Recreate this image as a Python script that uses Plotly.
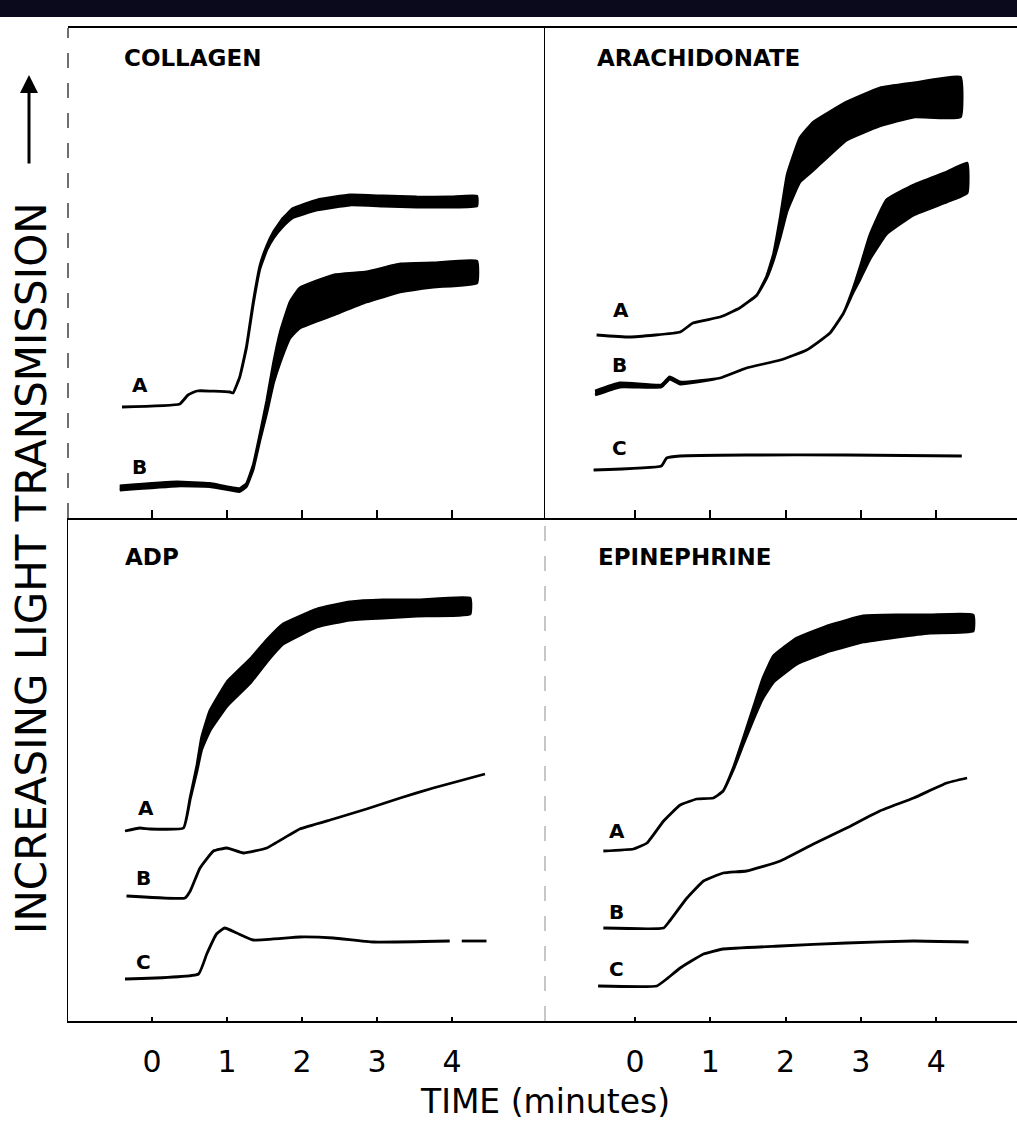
import plotly.graph_objects as go

# ---------------- data (time in minutes, transmission in arbitrary units) ----------------
# *_T: time, *_Y: trace centre, *_W: half-width of the oscillation envelope (0 = thin trace)
COL_A_T = [-0.40, 0.37, 0.48, 0.60, 1.04, 1.08, 1.17, 1.26, 1.35, 1.44, 1.53, 1.62, 1.75, 1.88, 2.20, 2.64, 3.08, 3.53, 3.97, 4.33]
COL_A_Y = [111, 114, 123, 127, 126, 125, 141, 171, 215, 251, 270, 283, 296, 305, 313, 318, 317, 316, 316, 317]
COL_A_W = [0, 0, 0, 0, 0, 0, 0, 0.5, 1, 1.5, 2, 3, 4, 4.5, 5, 5, 5, 5, 5, 5]

COL_B_T = [-0.43, 0.33, 0.77, 1.17, 1.26, 1.35, 1.44, 1.53, 1.62, 1.71, 1.84, 1.97, 2.42, 2.86, 3.31, 3.75, 4.33]
COL_B_Y = [30, 34, 33, 28, 33, 51, 81, 111, 145, 171, 198, 210, 223, 231, 240, 243, 246]
COL_B_W = [2, 2, 1.5, 1.5, 1.5, 2, 3, 6, 10, 15, 18, 20, 20, 15, 14, 12, 11]

ARA_A_T = [-0.51, -0.07, 0.60, 0.77, 1.13, 1.39, 1.62, 1.75, 1.84, 1.93, 2.02, 2.19, 2.37, 2.81, 3.25, 3.70, 4.32]
ARA_A_Y = [183, 181, 186, 195, 201, 210, 223, 241, 261, 291, 325, 358, 372, 397, 411, 418, 421]
ARA_A_W = [0, 0, 0, 0, 0, 0, 0, 1, 3, 10, 18, 22, 24, 19, 19, 17, 20]

ARA_B_T = [-0.53, -0.20, 0.35, 0.46, 0.60, 1.13, 1.48, 1.93, 2.28, 2.59, 2.77, 2.90, 2.99, 3.12, 3.34, 3.70, 4.14, 4.41]
ARA_B_Y = [125, 133, 132, 140, 135, 140, 150, 158, 168, 185, 205, 228, 245, 271, 301, 318, 331, 340]
ARA_B_W = [2, 2, 1, 1, 1, 0, 0, 0, 0, 0, 0, 2, 6, 12, 17, 15, 15, 15]

ARA_C_T = [-0.55, 0.35, 0.42, 0.60, 1.48, 2.81, 4.34]
ARA_C_Y = [48, 52, 60, 62, 63, 63, 62]
ARA_C_W = [0, 0, 0, 0, 0, 0, 0]

ADP_A_T = [-0.36, -0.16, -0.03, 0.42, 0.51, 0.60, 0.66, 0.77, 1.00, 1.31, 1.53, 1.75, 2.20, 2.64, 3.08, 3.53, 4.24]
ADP_A_Y = [190, 193, 192, 193, 223, 253, 277, 300, 327, 350, 370, 387, 403, 410, 412, 413, 415]
ADP_A_W = [0, 0, 0, 0, 1, 3, 6, 10, 12, 12, 11, 10, 9, 9, 9, 8, 8]

ADP_B_T = [-0.34, 0.44, 0.51, 0.64, 0.82, 1.00, 1.22, 1.53, 1.97, 2.42, 2.86, 3.31, 3.75, 4.44]
ADP_B_Y = [125, 123, 130, 153, 170, 173, 168, 173, 192, 202, 212, 223, 233, 247]
ADP_B_W = [0] * 14

ADP_C_T = [-0.36, 0.62, 0.73, 0.86, 0.97, 1.13, 1.35, 1.97, 2.42, 2.95, 3.97, 4.02, 4.13, 4.46]
ADP_C_Y = [42, 47, 67, 87, 93, 88, 81, 84, 83, 79, 80, None, 80, 80]
ADP_C_W = [0] * 14

EPI_A_T = [-0.42, -0.02, 0.16, 0.38, 0.60, 0.82, 1.04, 1.17, 1.31, 1.44, 1.57, 1.70, 1.84, 2.15, 2.59, 3.03, 3.48, 3.92, 4.49]
EPI_A_Y = [170, 172, 178, 200, 216, 222, 223, 230, 253, 280, 307, 333, 352, 370, 383, 392, 395, 397, 398]
EPI_A_W = [0, 0, 0, 0, 0, 0, 0, 0, 1, 3, 6, 10, 13, 13, 13, 13, 11, 9, 8]

EPI_B_T = [-0.42, 0.38, 0.46, 0.69, 0.91, 1.17, 1.48, 1.93, 2.37, 2.81, 3.25, 3.70, 4.14, 4.41]
EPI_B_Y = [93, 93, 100, 123, 140, 148, 150, 160, 177, 193, 210, 223, 238, 243]
EPI_B_W = [0] * 14

EPI_C_T = [-0.49, 0.29, 0.42, 0.60, 0.91, 1.17, 1.93, 2.81, 3.70, 4.43]
EPI_C_Y = [35, 35, 42, 53, 67, 72, 75, 78, 80, 79]
EPI_C_W = [0] * 10

PANEL_TITLES = ["COLLAGEN", "ARACHIDONATE", "ADP", "EPINEPHRINE"]
TICK_VALS = [0, 1, 2, 3, 4]
TICK_TEXT = ["0", "1", "2", "3", "4"]
# trace label positions (time, transmission) next to the start of each trace
LABELS = [
    ("A", -0.16, 133, "x", "y"), ("B", -0.17, 51, "x", "y"),
    ("A", -0.19, 208, "x2", "y2"), ("B", -0.20, 153, "x2", "y2"), ("C", -0.21, 70, "x2", "y2"),
    ("A", -0.08, 213, "x3", "y3"), ("B", -0.12, 143, "x3", "y3"), ("C", -0.12, 59, "x3", "y3"),
    ("A", -0.24, 190, "x4", "y4"), ("B", -0.24, 109, "x4", "y4"), ("C", -0.24, 52, "x4", "y4"),
]

W, H = 1017, 1124
fig = go.Figure()


def add_curve(t, y, band, xa, ya):
    line = dict(color="black", width=2.8, shape="spline", smoothing=0.35)
    if all(b == 0 for b in band):
        fig.add_trace(go.Scatter(x=t, y=y, mode="lines", line=line, xaxis=xa, yaxis=ya,
                                 connectgaps=False, hoverinfo="skip"))
    else:
        up = [v + b for v, b in zip(y, band)]
        lo = [v - b for v, b in zip(y, band)]
        fig.add_trace(go.Scatter(x=list(t) + list(t)[::-1], y=up + lo[::-1], mode="lines",
                                 fill="toself", fillcolor="black", line=line,
                                 xaxis=xa, yaxis=ya, hoverinfo="skip"))


add_curve(COL_A_T, COL_A_Y, COL_A_W, "x", "y")
add_curve(COL_B_T, COL_B_Y, COL_B_W, "x", "y")
add_curve(ARA_A_T, ARA_A_Y, ARA_A_W, "x2", "y2")
add_curve(ARA_B_T, ARA_B_Y, ARA_B_W, "x2", "y2")
add_curve(ARA_C_T, ARA_C_Y, ARA_C_W, "x2", "y2")
add_curve(ADP_A_T, ADP_A_Y, ADP_A_W, "x3", "y3")
add_curve(ADP_B_T, ADP_B_Y, ADP_B_W, "x3", "y3")
add_curve(ADP_C_T, ADP_C_Y, ADP_C_W, "x3", "y3")
add_curve(EPI_A_T, EPI_A_Y, EPI_A_W, "x4", "y4")
add_curve(EPI_B_T, EPI_B_Y, EPI_B_W, "x4", "y4")
add_curve(EPI_C_T, EPI_C_Y, EPI_C_W, "x4", "y4")

# layout geometry (fractions of the page)
XL, XM = 68 / W, 545 / W
YT, YM, YB = 1 - 28 / H, 1 - 518 / H, 1 - 1021 / H
LEFT_RANGE = [-1.12, 5.24]
RIGHT_RANGE = [-1.195, 5.073]

top_x = dict(showgrid=False, zeroline=False, showline=True, mirror=True, linecolor="black",
             linewidth=1.6, ticks="inside", ticklen=8, tickwidth=2, tickcolor="black",
             tickvals=TICK_VALS, showticklabels=False)
bot_x = dict(showgrid=False, zeroline=False, showline=True, linecolor="black", linewidth=2,
             ticks="inside", ticklen=4, tickwidth=1.5, tickcolor="black",
             tickvals=TICK_VALS, ticktext=TICK_TEXT, ticklabelstandoff=13,
             tickfont=dict(family="DejaVu Sans", size=30, color="black"))
ax_y = dict(showgrid=False, zeroline=False, showticklabels=False, ticks="",
            linecolor="black", linewidth=1.4)

fig.update_layout(
    width=W, height=H, margin=dict(l=0, r=0, t=0, b=0),
    paper_bgcolor="white", plot_bgcolor="white", showlegend=False,
    xaxis=dict(top_x, domain=[XL, XM], range=LEFT_RANGE, anchor="y"),
    xaxis2=dict(top_x, domain=[XM, 1], range=RIGHT_RANGE, anchor="y2"),
    xaxis3=dict(bot_x, domain=[XL, XM], range=LEFT_RANGE, anchor="y3"),
    xaxis4=dict(bot_x, domain=[XM, 1], range=RIGHT_RANGE, anchor="y4"),
    yaxis=dict(ax_y, domain=[YM, YT], range=[0, 490], anchor="x", showline=False),
    yaxis2=dict(ax_y, domain=[YM, YT], range=[0, 490], anchor="x2", showline=True),
    yaxis3=dict(ax_y, domain=[YB, YM], range=[0, 503], anchor="x3", showline=True),
    yaxis4=dict(ax_y, domain=[YB, YM], range=[0, 503], anchor="x4", showline=False),
)

# dark scan band at the very top, the broken left border (upper half)
# and the broken middle divider in the lower half
fig.add_shape(type="rect", xref="paper", yref="paper", x0=0, x1=1, y0=1 - 17 / H, y1=1,
              fillcolor="#0a0a1c", line=dict(width=0), layer="above")
fig.add_shape(type="line", xref="paper", yref="paper", x0=XL, x1=XL, y0=YM, y1=YT,
              line=dict(color="#333333", width=1.4, dash="longdash"))
fig.add_shape(type="line", xref="paper", yref="paper", x0=XM, x1=XM, y0=YB, y1=YM,
              line=dict(color="#999999", width=1.1, dash="longdash"))

title_font = dict(family="DejaVu Sans", size=23, color="black", weight="bold")
title_pos = [(122, 58), (595, 58), (123, 557), (596, 557)]
for txt, (px, py) in zip(PANEL_TITLES, title_pos):
    fig.add_annotation(text=txt, xref="paper", yref="paper", x=px / W, y=1 - py / H,
                       xanchor="left", yanchor="middle", showarrow=False, font=title_font)

for txt, t, v, xa, ya in LABELS:
    fig.add_annotation(text=txt, xref=xa, yref=ya, x=t, y=v, showarrow=False,
                       xanchor="center", yanchor="middle",
                       font=dict(family="DejaVu Sans", size=20, color="black", weight="bold"))

fig.add_annotation(text="TIME (minutes)", xref="paper", yref="paper", x=545 / W, y=1 - 1101 / H,
                   xanchor="center", yanchor="middle", showarrow=False,
                   font=dict(family="DejaVu Sans", size=33, color="black"))

fig.add_annotation(text="INCREASING LIGHT TRANSMISSION", xref="paper", yref="paper",
                   x=31 / W, y=1 - 568 / H, textangle=-90, xanchor="center", yanchor="middle",
                   showarrow=False, font=dict(family="DejaVu Sans", size=42, color="black"))
fig.add_annotation(text="", xref="paper", yref="paper", x=29 / W, y=1 - 75 / H,
                   ax=0, ay=90, showarrow=True, arrowhead=2, arrowsize=1.2, arrowwidth=3,
                   arrowcolor="black", standoff=0)

fig.write_html("out.html", config={"displayModeBar": False},
               post_script="document.body.style.margin='0px';")
